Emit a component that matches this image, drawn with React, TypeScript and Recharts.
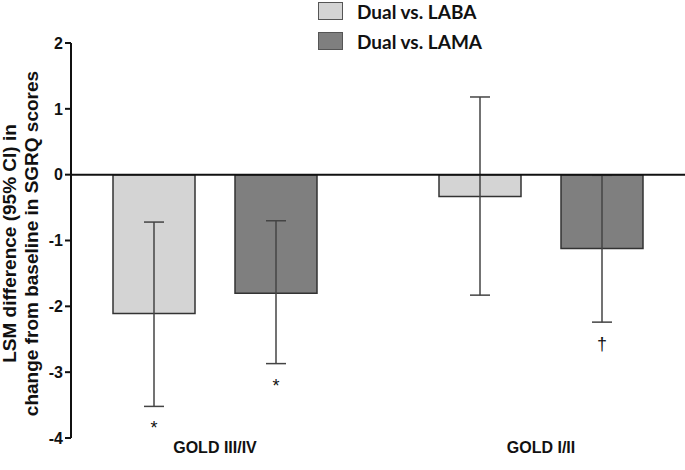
import React from 'react';
import { BarChart, Bar, XAxis, YAxis, ErrorBar, ReferenceLine, Legend, LabelList } from 'recharts';

// values (LSM difference with 95% CI)
const categories = ['GOLD III/IV', 'GOLD I/II'];
const labaMean = [-2.11, -0.33];
const labaLow = [-3.52, -1.83];
const labaHigh = [-0.72, 1.18];
const lamaMean = [-1.8, -1.12];
const lamaLow = [-2.87, -2.24];
const lamaHigh = [-0.7, -0.01];
const labaMarks = ['*', ''];
const lamaMarks = ['*', '†'];
const seriesNames = ['Dual vs. LABA', 'Dual vs. LAMA'];
const seriesColors = ['#d4d4d4', '#7f7f7f'];
const yTicks = [-4, -3, -2, -1, 0, 1, 2];
const yTitle = ['LSM difference (95% CI) in', 'change from baseline in SGRQ scores'];

const data = categories.map((name, i) => ({
  name,
  laba: labaMean[i],
  labaErr: [labaMean[i] - labaLow[i], labaHigh[i] - labaMean[i]],
  labaMark: labaMarks[i],
  lama: lamaMean[i],
  lamaErr: [lamaMean[i] - lamaLow[i], lamaHigh[i] - lamaMean[i]],
  lamaMark: lamaMarks[i],
}));

const arial = '"Liberation Sans", Arial, sans-serif';
const tickStyle = { fill: '#111', fontSize: 16, fontWeight: 700, fontFamily: arial };

// puts the significance mark under the lower CI whisker
const markContent = (means: number[], lows: number[]) => (props: any) => {
  const vb = props.viewBox || props;
  const { value, index } = props;
  if (!value) return null;
  const top = Math.min(vb.y, vb.y + vb.height);
  const bottom = Math.max(vb.y, vb.y + vb.height);
  const perUnit = (bottom - top) / Math.abs(means[index]);
  const lowY = top + Math.abs(lows[index]) * perUnit;
  return (
    <text x={vb.x + vb.width / 2} y={lowY + 28} textAnchor="middle" fill="#111" fontSize={18} fontFamily={arial}>
      {value}
    </text>
  );
};

const renderYLabel = (props: any) => {
  const vb = props.viewBox || { y: 43, height: 395 };
  const cy = vb.y + vb.height / 2 + 3;
  const xs = [16, 38];
  return (
    <g>
      {yTitle.map((t, i) => (
        <text
          key={t}
          x={xs[i]}
          y={cy}
          transform={`rotate(-90, ${xs[i]}, ${cy})`}
          textAnchor="middle"
          fill="#111"
          fontSize={19}
          fontWeight={700}
          fontFamily={arial}
        >
          {t}
        </text>
      ))}
    </g>
  );
};

const renderLegend = () => (
  <div>
    {seriesNames.map((n, i) => (
      <div key={n} style={{ display: 'flex', alignItems: 'center', height: 30 }}>
        <span
          style={{
            display: 'inline-block',
            width: 25,
            height: 18,
            background: seriesColors[i],
            border: '1px solid #555',
            boxSizing: 'border-box',
            marginRight: 14,
          }}
        />
        <span style={{ fontFamily: 'Lato, sans-serif', fontWeight: 700, fontSize: 19, color: '#111' }}>{n}</span>
      </div>
    ))}
  </div>
);

export default function App() {
  return (
    <div style={{ position: 'absolute', left: 0, top: 0, width: 685, height: 470, background: '#fff' }}>
      <BarChart
        width={685}
        height={470}
        data={data}
        margin={{ top: 43, right: 0, bottom: 0, left: 0 }}
        barSize={82}
        barGap={40}
      >
        <XAxis
          dataKey="name"
          axisLine={false}
          tickLine={false}
          tickSize={0}
          tickMargin={4}
          height={32}
          interval={0}
          padding={{ left: -19, right: -19 }}
          tick={tickStyle}
        />
        <YAxis
          width={71}
          domain={[-4, 2]}
          ticks={yTicks}
          interval={0}
          allowDataOverflow
          axisLine={{ stroke: '#111', strokeWidth: 2 }}
          tickLine={{ stroke: '#111', strokeWidth: 2 }}
          tickSize={6}
          tickMargin={2}
          tick={tickStyle}
          label={{ content: renderYLabel }}
        />
        <Legend
          layout="vertical"
          align="center"
          verticalAlign="middle"
          content={renderLegend}
          wrapperStyle={{ top: -4, left: 318, width: 'auto' }}
        />
        <Bar dataKey="laba" name={seriesNames[0]} fill={seriesColors[0]} stroke="#333" strokeWidth={1.5} isAnimationActive={false}>
          <ErrorBar dataKey="labaErr" width={10} stroke="#444" strokeWidth={1.5} isAnimationActive={false} />
          <LabelList dataKey="labaMark" content={markContent(labaMean, labaLow)} />
        </Bar>
        <Bar dataKey="lama" name={seriesNames[1]} fill={seriesColors[1]} stroke="#333" strokeWidth={1.5} isAnimationActive={false}>
          <ErrorBar dataKey="lamaErr" width={10} stroke="#444" strokeWidth={1.5} isAnimationActive={false} />
          <LabelList dataKey="lamaMark" content={markContent(lamaMean, lamaLow)} />
        </Bar>
        <ReferenceLine y={0} stroke="#111" strokeWidth={2} />
      </BarChart>
    </div>
  );
}
